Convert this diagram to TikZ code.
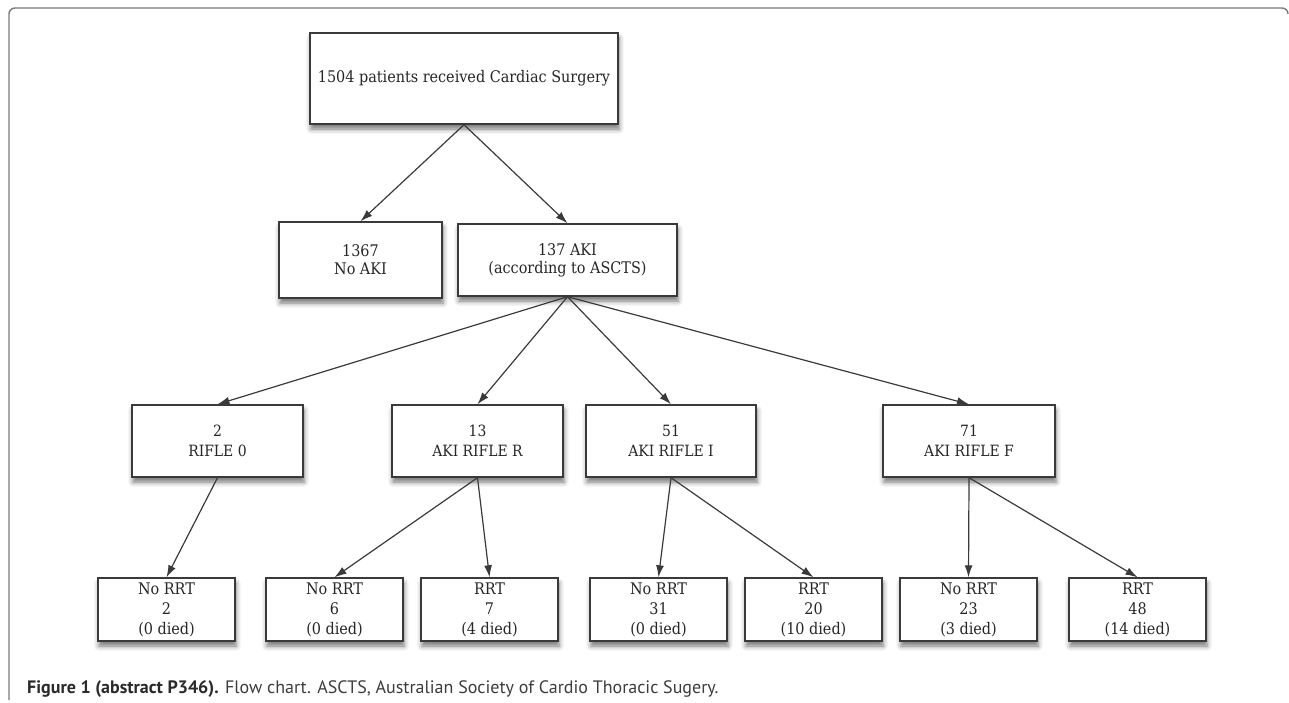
\documentclass[tikz,border=0pt]{standalone}
\usepackage{fontspec}
\setmainfont{DejaVu Serif Condensed}
\newfontfamily\capfont{PT Sans}
\usetikzlibrary{arrows.meta,shadows.blur}
\definecolor{boxline}{HTML}{3A3A3A}
\definecolor{framecol}{HTML}{7A7A7A}
\definecolor{captxt}{HTML}{2A2A2A}
\definecolor{capreg}{HTML}{3C3C3C}
\tikzset{
  boxbase/.style={draw=boxline, line width=1.4pt, fill=white, align=center, inner sep=0pt,
    text=black!85, blur shadow={shadow xshift=1pt, shadow yshift=-5pt, shadow blur radius=5pt, shadow opacity=55}},
  bigbox/.style={boxbase, font=\fontsize{16}{18}\selectfont},
  midbox/.style={boxbase, font=\fontsize{15.5}{20}\selectfont},
  smallbox/.style={boxbase, minimum width=137pt, minimum height=63pt, font=\fontsize{16}{20}\selectfont},
  conn/.style={draw=boxline, line width=1.2pt, -{Latex[length=12pt,width=8pt]}},
}
\begin{document}
\begin{tikzpicture}[x=1pt,y=-1pt]
\useasboundingbox (0,0) rectangle (1289,703);
% frame
\draw[framecol, line width=1.4pt, rounded corners=6pt] (9,700) -- (9,8) -- (1288,8) -- (1288,14);
% nodes
\node[bigbox, minimum width=308pt, minimum height=91pt] (top) at (464,78.5) {1504 patients received Cardiac Surgery};
\node[bigbox, minimum width=163pt, minimum height=76pt] (noaki) at (360.5,260) {1367\\No AKI};
\node[bigbox, minimum width=219pt, minimum height=72pt] (aki) at (567.5,260) {137 AKI\\(according to ASCTS)};
\node[midbox, minimum width=171pt, minimum height=72pt] (r0) at (217.5,441) {2\\RIFLE 0};
\node[midbox, minimum width=171pt, minimum height=72pt] (rR) at (477.5,441) {13\\AKI RIFLE R};
\node[midbox, minimum width=170pt, minimum height=72pt] (rI) at (671,441) {51\\AKI RIFLE I};
\node[midbox, minimum width=172pt, minimum height=72pt] (rF) at (969,441) {71\\AKI RIFLE F};
\node[smallbox] (n2) at (166.5,609.5) {No RRT\\2\\(0 died)};
\node[smallbox] (n6) at (334.5,609.5) {No RRT\\6\\(0 died)};
\node[smallbox] (r7) at (489.5,609.5) {RRT\\7\\(4 died)};
\node[smallbox] (n31) at (658.5,609.5) {No RRT\\31\\(0 died)};
\node[smallbox] (r20) at (813.5,609.5) {RRT\\20\\(10 died)};
\node[smallbox] (n23) at (968.5,609.5) {No RRT\\23\\(3 died)};
\node[smallbox] (r48) at (1137.5,609.5) {RRT\\48\\(14 died)};
% connectors
\draw[conn] (top.south) -- (noaki.north);
\draw[conn] (top.south) -- (aki.north);
\draw[conn] (aki.south) -- (r0.north);
\draw[conn] (aki.south) -- (rR.north);
\draw[conn] (aki.south) -- (rI.north);
\draw[conn] (aki.south) -- (rF.north);
\draw[conn] (r0.south) -- (n2.north);
\draw[conn] (rR.south) -- (n6.north);
\draw[conn] (rR.south) -- (r7.north);
\draw[conn] (rI.south) -- (n31.north);
\draw[conn] (rI.south) -- (r20.north);
\draw[conn] (rF.south) -- (n23.north);
\draw[conn] (rF.south) -- (r48.north);
% caption
\node[anchor=base west, inner sep=0pt, text=capreg, font=\capfont\fontsize{18}{20}\selectfont] (cap) at (27,693)
  {\textcolor{captxt}{\textbf{Figure 1 (abstract P346).}} Flow chart. ASCTS, Australian Society of Cardio Thoracic Sugery.};
\end{tikzpicture}
\end{document}
